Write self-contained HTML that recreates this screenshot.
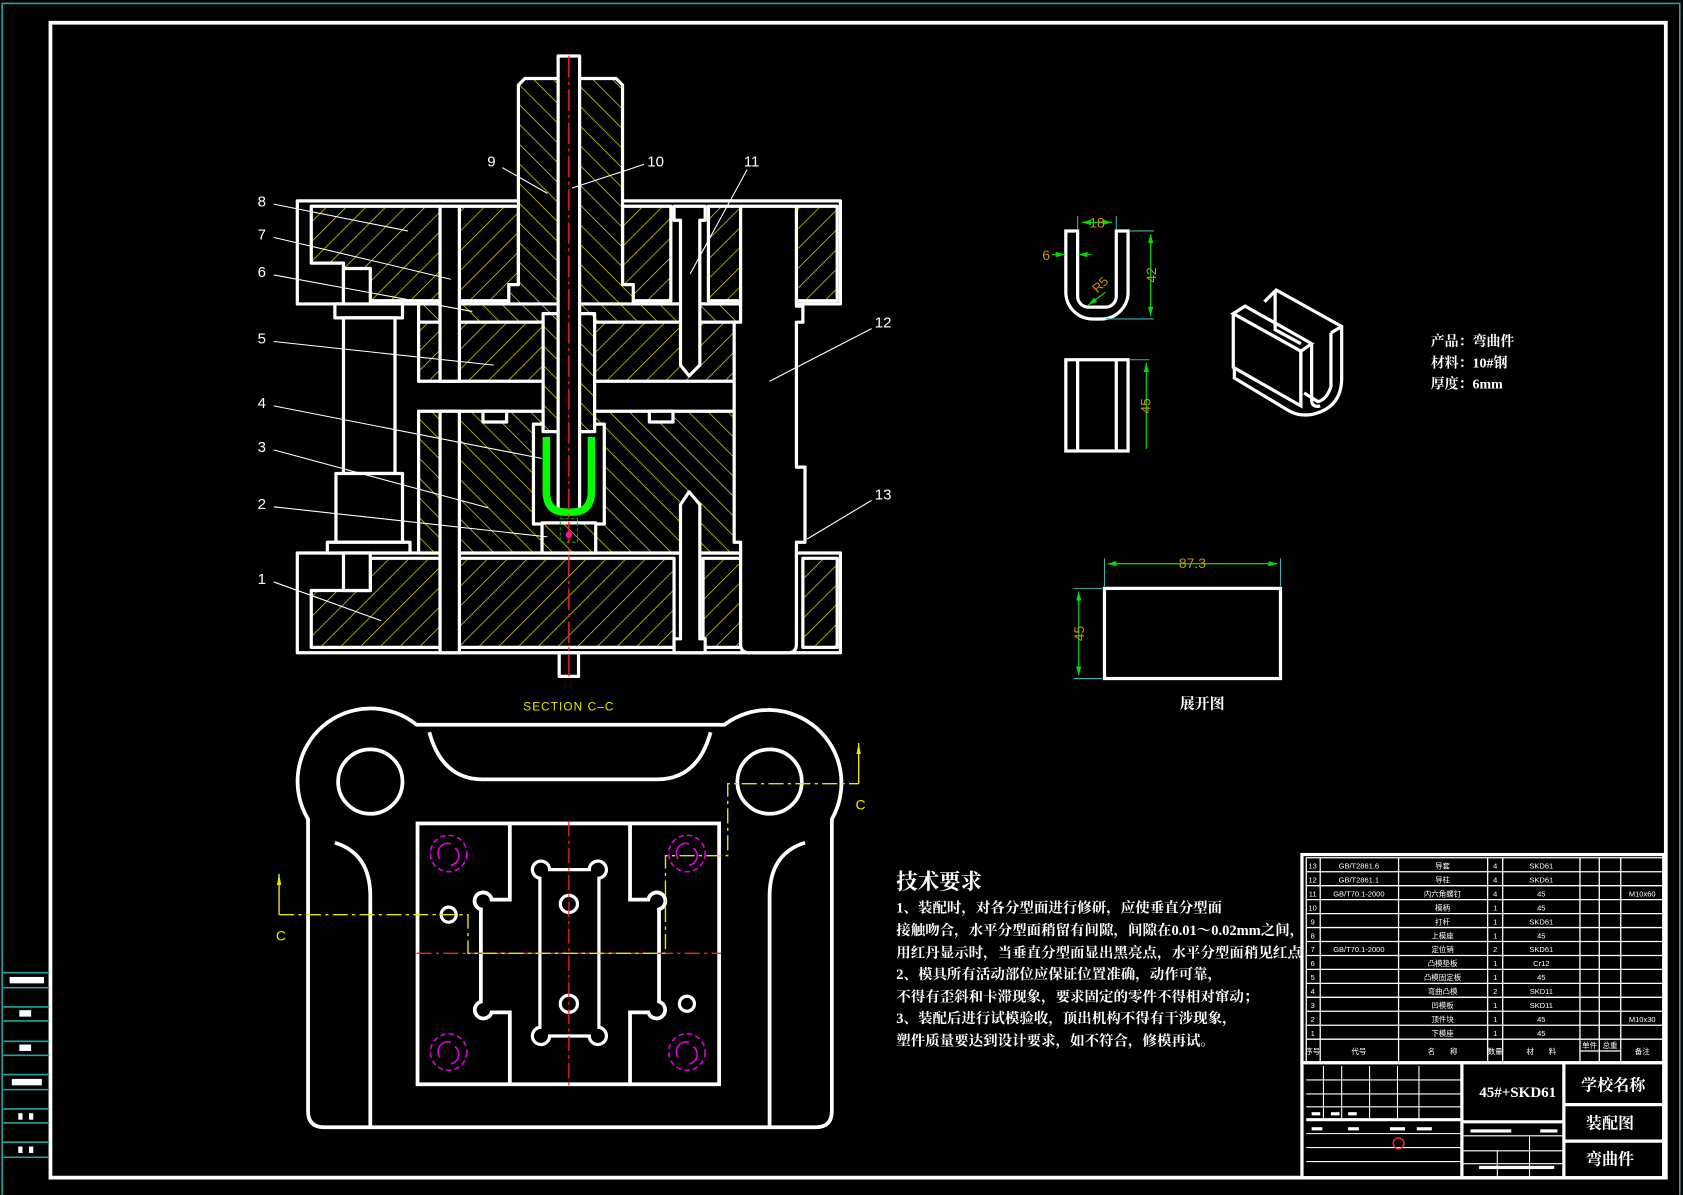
<!DOCTYPE html>
<html><head><meta charset="utf-8"><style>
html,body{margin:0;padding:0;background:#000;}
svg{display:block;}
text{font-family:"Liberation Sans","Noto Sans CJK SC",sans-serif;}
.cn{font-family:"Liberation Serif","Noto Serif CJK SC","Noto Sans CJK SC",serif;font-weight:bold;}
</style></head><body>
<svg width="1683" height="1195" viewBox="0 0 1568 1113" xmlns="http://www.w3.org/2000/svg">
<defs>
<pattern id="hA" patternUnits="userSpaceOnUse" width="13" height="13" patternTransform="rotate(45)">
<rect width="13" height="13" fill="#000"/><line x1="0" y1="0" x2="0" y2="13" stroke="#e6e600" stroke-width="1.3"/></pattern>
<pattern id="hB" patternUnits="userSpaceOnUse" width="13" height="13" patternTransform="rotate(-45)">
<rect width="13" height="13" fill="#000"/><line x1="0" y1="0" x2="0" y2="13" stroke="#e6e600" stroke-width="1.3"/></pattern>
<marker id="ag" viewBox="0 0 10 10" refX="10" refY="5" markerWidth="7" markerHeight="7" orient="auto-start-reverse"><path d="M0,2 L10,5 L0,8 Z" fill="#00dd00"/></marker>
<marker id="ay" viewBox="0 0 10 10" refX="10" refY="5" markerWidth="8" markerHeight="8" orient="auto"><path d="M0,3 L10,5 L0,7 Z" fill="#e6e600"/></marker>
</defs>
<rect width="1568" height="1113" fill="#000"/>
<!-- frame -->
<polyline points="2,1113 2,3 1565,3 1565,1113" fill="none" stroke="#1fa5a5" stroke-width="1.5"/>
<rect x="47" y="21" width="1505" height="1076" fill="none" stroke="#fff" stroke-width="3.5"/>
<g stroke="#1fa5a5" stroke-width="1.5">
<line x1="3" y1="906" x2="46" y2="906"/><line x1="3" y1="920" x2="46" y2="920"/>
<line x1="3" y1="938" x2="46" y2="938"/><line x1="3" y1="951" x2="46" y2="951"/>
<line x1="3" y1="970" x2="46" y2="970"/><line x1="3" y1="983" x2="46" y2="983"/>
<line x1="3" y1="1001" x2="46" y2="1001"/><line x1="3" y1="1015" x2="46" y2="1015"/>
<line x1="3" y1="1033" x2="46" y2="1033"/><line x1="3" y1="1046" x2="46" y2="1046"/>
<line x1="3" y1="1064" x2="46" y2="1064"/><line x1="3" y1="1078" x2="46" y2="1078"/>
</g>
<g fill="#fff">
<rect x="9" y="910" width="32" height="6"/><rect x="18" y="941" width="11" height="6"/>
<rect x="18" y="973" width="11" height="6"/><rect x="11" y="1005" width="28" height="6"/>
<rect x="17" y="1037" width="4" height="6"/><rect x="27" y="1037" width="4" height="6"/>
<rect x="17" y="1068" width="4" height="6"/><rect x="27" y="1068" width="4" height="6"/>
</g>

<!-- ===== SECTION VIEW ===== -->
<g stroke="#fff" stroke-width="3" stroke-linejoin="round">
<!-- top plate -->
<rect x="277" y="187" width="506" height="96" fill="#000"/>
<path d="M290,192 H410 V280 H320 V245 H290 Z" fill="url(#hA)"/>
<rect x="428" y="192" width="55" height="88" fill="url(#hA)"/>
<rect x="580" y="192" width="45" height="88" fill="url(#hA)"/>
<rect x="660" y="192" width="30" height="88" fill="url(#hA)"/>
<rect x="742" y="192" width="38" height="88" fill="url(#hA)"/>
<!-- lower plate -->
<rect x="277" y="515" width="506" height="93" fill="#000"/>
<path d="M290,550 H345 V520 H410 V603 H290 Z" fill="url(#hA)"/>
<rect x="428" y="520" width="200" height="83" fill="url(#hA)"/>
<rect x="655" y="520" width="35" height="83" fill="url(#hA)"/>
<rect x="748" y="520" width="32" height="83" fill="url(#hA)"/>
<!-- plate 6 & 5 -->
<rect x="390" y="283" width="300" height="17" fill="url(#hB)"/>
<rect x="390" y="300" width="300" height="55" fill="url(#hA)"/>
<!-- die plate -->
<rect x="390" y="383" width="300" height="132" fill="url(#hB)"/>
<rect x="450" y="383" width="22" height="10" fill="#000"/>
<rect x="605" y="383" width="22" height="10" fill="#000"/>
<rect x="497" y="395" width="66" height="93" fill="#000"/>
<rect x="505" y="487" width="50" height="28" fill="url(#hB)"/>
<!-- guide pin channels -->
<rect x="410" y="192" width="18" height="163" fill="#000"/>
<rect x="410" y="383" width="18" height="225" fill="#000"/>
<!-- punch -->
<rect x="506" y="292" width="48" height="110" fill="url(#hB)"/>
<!-- part 9 -->
<path d="M489,73 H574 L580,79 V265 H590 V283 H474 V265 H483 V79 Z" fill="url(#hB)"/>
<!-- center rod -->
<rect x="520" y="52" width="20" height="425" fill="#000"/>
<rect x="521" y="608" width="18" height="22" fill="#000"/>
<!-- screws -->
<path d="M628,192 H657 V205 H652 V340 L642,350 L634,340 V205 H628 Z" fill="#000"/>
<path d="M634,470 L642,458 L652,470 V595 H657 V608 H628 V595 H634 Z" fill="#000"/>
<!-- right guide post -->
<path d="M690,192 H742 V285 H748 V300 H742 V435 H750 V505 H742 V600 Q742,608 734,608 H698 Q690,608 690,600 V505 H684 V300 H690 V285 Z" fill="#000"/>
<!-- left guide post -->
<rect x="312" y="283" width="63" height="13" fill="#000"/>
<rect x="320" y="296" width="48" height="145" fill="#000"/>
<rect x="313" y="441" width="62" height="64" fill="#000"/>
<rect x="305" y="505" width="77" height="10" fill="#000"/>
<rect x="320" y="250" width="25" height="33" fill="#000"/>
<rect x="320" y="515" width="25" height="35" fill="#000"/>
</g>
<path d="M509,407 V458 Q509,477 527,477 H533 Q551,477 551,458 V407" fill="none" stroke="#00ff00" stroke-width="7"/>
<rect x="522" y="483" width="16" height="22" fill="none" stroke="#00aa00" stroke-width="1" stroke-dasharray="3,2"/>
<circle cx="530" cy="498" r="3" fill="#ff00ff"/>
<line x1="530" y1="52" x2="530" y2="632" stroke="#ff2020" stroke-width="1.3" stroke-dasharray="20,4,3,4"/>
<!-- labels -->
<g stroke="#fff" stroke-width="1">
<line x1="255" y1="190" x2="380" y2="215"/><line x1="255" y1="221" x2="420" y2="260"/>
<line x1="255" y1="256" x2="440" y2="290"/><line x1="255" y1="318" x2="460" y2="340"/>
<line x1="255" y1="378" x2="505" y2="427"/><line x1="255" y1="419" x2="455" y2="473"/>
<line x1="255" y1="472" x2="510" y2="500"/><line x1="255" y1="542" x2="355" y2="578"/>
<line x1="468" y1="156" x2="510" y2="180"/><line x1="600" y1="153" x2="533" y2="175"/>
<line x1="696" y1="158" x2="643" y2="255"/><line x1="812" y1="306" x2="717" y2="355"/>
<line x1="812" y1="466" x2="752" y2="502"/>
</g>
<g fill="#fff" font-size="14">
<text x="240" y="192">8</text><text x="240" y="223">7</text><text x="240" y="258">6</text>
<text x="240" y="320">5</text><text x="240" y="380">4</text><text x="240" y="421">3</text>
<text x="240" y="474">2</text><text x="240" y="544">1</text>
<text x="454" y="155">9</text><text x="603" y="155">10</text><text x="693" y="155">11</text>
<text x="815" y="305">12</text><text x="815" y="465">13</text>
</g>
<text x="530" y="662" fill="#e6e600" font-size="11" text-anchor="middle" letter-spacing="1">SECTION C–C</text>

<!-- ===== PLAN VIEW ===== -->
<g fill="none" stroke="#fff" stroke-width="3.5">
<path d="M388,675 L675,675 A68,68 0 0 1 775,763 L775,1035 Q775,1050 760,1050 L302,1050 Q287,1050 287,1035 L287,763 A68,68 0 0 1 388,675 Z"/>
<path d="M400,682 Q412,726 450,726 L612,726 Q650,726 662,682"/>
<path d="M312,785 Q345,795 345,835 V1049"/>
<path d="M750,785 Q717,795 717,835 V1049"/>
<circle cx="345" cy="728" r="30"/><circle cx="717" cy="728" r="30"/>
<rect x="389" y="767" width="281" height="243"/>
<path d="M475,767 V838 H458 A8,8 0 1 0 448,847 V933 A8,8 0 1 0 458,943 H475 V1010"/>
<path d="M587,767 V838 H604 A8,8 0 1 1 614,847 V933 A8,8 0 1 1 604,943 H587 V1010"/>
<path d="M503,818 A8,8 0 1 1 512,810 H549 A8,8 0 1 1 558,818 V957 A8,8 0 1 1 549,965 H512 A8,8 0 1 1 503,957 Z" stroke-width="3"/>
<line x1="503" y1="825" x2="503" y2="950" stroke-width="2"/><line x1="558" y1="825" x2="558" y2="950" stroke-width="2"/>
<circle cx="530" cy="842" r="8" stroke-width="3"/><circle cx="530" cy="935" r="8" stroke-width="3"/>
<circle cx="418" cy="852" r="7" stroke-width="3"/><circle cx="640" cy="935" r="7" stroke-width="3"/>
</g>
<g fill="none" stroke="#dd00dd" stroke-width="1.5" stroke-dasharray="5,3">
<circle cx="418" cy="795" r="17"/><circle cx="640" cy="795" r="17"/>
<circle cx="418" cy="980" r="17"/><circle cx="640" cy="980" r="17"/>
</g>
<g fill="none" stroke="#dd00dd" stroke-width="1.5">
<path d="M410,800 A9,9 0 0 1 420,786"/><path d="M424,790 A9,9 0 0 1 420,806"/>
<path d="M632,800 A9,9 0 0 1 642,786"/><path d="M646,790 A9,9 0 0 1 642,806"/>
<path d="M410,985 A9,9 0 0 1 420,971"/><path d="M424,975 A9,9 0 0 1 420,991"/>
<path d="M632,985 A9,9 0 0 1 642,971"/><path d="M646,975 A9,9 0 0 1 642,991"/>
</g>
<g stroke="#ff2020" stroke-width="1.2" stroke-dasharray="14,4,3,4">
<line x1="388" y1="888" x2="672" y2="888"/><line x1="530" y1="765" x2="530" y2="1012"/>
</g>
<g fill="none" stroke="#e6e600" stroke-width="1.3">
<polyline points="260,852 436,852 436,888 620,888 620,797 678,797 678,730 800,730" stroke-dasharray="14,4,3,4"/>
<line x1="260" y1="852" x2="260" y2="814" marker-end="url(#ay)"/>
<line x1="800" y1="730" x2="800" y2="692" marker-end="url(#ay)"/>
</g>
<text x="257" y="876" fill="#e6e600" font-size="13">C</text>
<text x="797" y="754" fill="#e6e600" font-size="13">C</text>

<!-- ===== PART VIEWS ===== -->
<g fill="none" stroke="#fff" stroke-width="3">
<path d="M993,215 V272 A25,25 0 0 0 1018,297 H1026 A25,25 0 0 0 1051,272 V215 H1040 V276 A10,10 0 0 1 1030,286 H1014 A10,10 0 0 1 1004,276 V215 Z"/>
<rect x="993" y="335" width="58" height="85"/>
<line x1="1004" y1="335" x2="1004" y2="420"/><line x1="1040" y1="335" x2="1040" y2="420"/>
<rect x="1029" y="548" width="164" height="84"/>
<!-- iso -->
<path d="M1149,292 L1160,285 L1222,320 L1212,327 Z"/>
<path d="M1149,292 V342 L1212,378 V327"/>
<path d="M1212,327 V378"/>
<path d="M1178,281 L1189,270 L1250,304 V352 Q1250,380 1222,386 Q1210,388 1200,382 L1150,352 V342"/>
<path d="M1222,320 V372 Q1222,380 1230,378"/>
<path d="M1188,272 V307 L1212,320"/>
<path d="M1240,310 L1250,304 M1240,310 V360 Q1236,372 1228,374 L1215,366"/>
</g>
<g stroke="#00cc00" stroke-width="1.2" fill="none">
<line x1="1008" y1="207" x2="1036" y2="207" marker-start="url(#ag)" marker-end="url(#ag)"/>
<line x1="980" y1="237" x2="992" y2="237" marker-end="url(#ag)"/>
<line x1="1017" y1="237" x2="1005" y2="237" marker-end="url(#ag)"/>
<line x1="1072" y1="218" x2="1072" y2="294" marker-start="url(#ag)" marker-end="url(#ag)"/>
<line x1="1068" y1="338" x2="1068" y2="418" marker-start="url(#ag)"/>
<line x1="1030" y1="272" x2="1014" y2="284" marker-end="url(#ag)"/>
<line x1="1032" y1="525" x2="1190" y2="525" marker-start="url(#ag)" marker-end="url(#ag)"/>
<line x1="1005" y1="551" x2="1005" y2="629" marker-start="url(#ag)" marker-end="url(#ag)"/>
</g>
<g stroke="#40b0b0" stroke-width="1">
<line x1="1004" y1="201" x2="1004" y2="213"/><line x1="1040" y1="201" x2="1040" y2="213"/>
<line x1="1052" y1="215" x2="1075" y2="215"/><line x1="1030" y1="297" x2="1075" y2="297"/>
<line x1="1052" y1="335" x2="1071" y2="335"/>
<line x1="1029" y1="520" x2="1029" y2="546"/><line x1="1193" y1="520" x2="1193" y2="546"/>
<line x1="1000" y1="548" x2="1027" y2="548"/><line x1="1000" y1="632" x2="1027" y2="632"/>
</g>
<g fill="#d09000" font-size="13">
<text x="1022" y="212" text-anchor="middle">18</text>
<text x="971" y="242">6</text>
<text transform="translate(1077,256) rotate(-90)" text-anchor="middle">42</text>
<text transform="translate(1072,378) rotate(-90)" text-anchor="middle">45</text>
<text transform="translate(1028,268) rotate(-45)" text-anchor="middle" font-size="12">R5</text>
<text x="1111" y="529" text-anchor="middle">87.3</text>
<text transform="translate(1010,590) rotate(-90)" text-anchor="middle">45</text>
</g>
<text x="1120" y="660" fill="#fff" font-size="14" text-anchor="middle" class="cn">展开图</text>
<g fill="#fff" font-size="13" class="cn">
<text x="1333" y="322" class="cn">产品：弯曲件</text>
<text x="1333" y="342" class="cn">材料：10#钢</text>
<text x="1333" y="362" class="cn">厚度：6mm</text>
</g>

<!-- tech requirements -->
<g fill="#fff" class="cn">
<text x="835" y="828" font-size="20" class="cn">技术要求</text>
<g font-size="13.5">
<text x="835" y="850" class="cn">1、装配时，对各分型面进行修研，应使垂直分型面</text>
<text x="835" y="871" class="cn">接触吻合，水平分型面稍留有间隙，间隙在0.01～0.02mm之间，</text>
<text x="835" y="892" class="cn">用红丹显示时，当垂直分型面显出黑亮点，水平分型面稍见红点即可。</text>
<text x="835" y="912" class="cn">2、模具所有活动部位应保证位置准确，动作可靠，</text>
<text x="835" y="933" class="cn">不得有歪斜和卡滞现象，要求固定的零件不得相对窜动；</text>
<text x="835" y="953" class="cn">3、装配后进行试模验收，顶出机构不得有干涉现象，</text>
<text x="835" y="974" class="cn">塑件质量要达到设计要求，如不符合，修模再试。</text>
</g></g>

<!-- BOM table -->
<rect x="1213" y="796" width="337" height="194" fill="#000" stroke="#fff" stroke-width="3"/>
<g stroke="#fff" stroke-width="1.2">
<line x1="1217" y1="812" x2="1550" y2="812"/><line x1="1217" y1="825" x2="1550" y2="825"/>
<line x1="1217" y1="838" x2="1550" y2="838"/><line x1="1217" y1="851" x2="1550" y2="851"/>
<line x1="1217" y1="864" x2="1550" y2="864"/><line x1="1217" y1="877" x2="1550" y2="877"/>
<line x1="1217" y1="890" x2="1550" y2="890"/><line x1="1217" y1="903" x2="1550" y2="903"/>
<line x1="1217" y1="916" x2="1550" y2="916"/><line x1="1217" y1="929" x2="1550" y2="929"/>
<line x1="1217" y1="942" x2="1550" y2="942"/><line x1="1217" y1="955" x2="1550" y2="955"/>
<line x1="1217" y1="968" x2="1550" y2="968"/><line x1="1217" y1="799" x2="1550" y2="799"/>
<line x1="1217" y1="799" x2="1217" y2="990"/><line x1="1230" y1="799" x2="1230" y2="990"/>
<line x1="1303" y1="799" x2="1303" y2="990"/><line x1="1386" y1="799" x2="1386" y2="990"/>
<line x1="1400" y1="799" x2="1400" y2="990"/><line x1="1472" y1="799" x2="1472" y2="990"/>
<line x1="1490" y1="799" x2="1490" y2="990"/><line x1="1510" y1="799" x2="1510" y2="990"/>
<line x1="1472" y1="979" x2="1510" y2="979"/>
</g>
<g fill="#fff" font-size="7" text-anchor="middle">
<text x="1223" y="809">13</text><text x="1266" y="809">GB/T2861.6</text><text x="1344" y="809">导套</text><text x="1393" y="809">4</text><text x="1436" y="809">SKD61</text>
<text x="1223" y="822">12</text><text x="1266" y="822">GB/T2861.1</text><text x="1344" y="822">导柱</text><text x="1393" y="822">4</text><text x="1436" y="822">SKD61</text>
<text x="1223" y="835">11</text><text x="1266" y="835">GB/T70.1-2000</text><text x="1344" y="835">内六角螺钉</text><text x="1393" y="835">4</text><text x="1436" y="835">45</text><text x="1530" y="835">M10x60</text>
<text x="1223" y="848">10</text><text x="1344" y="848">模柄</text><text x="1393" y="848">1</text><text x="1436" y="848">45</text>
<text x="1223" y="861">9</text><text x="1344" y="861">打杆</text><text x="1393" y="861">1</text><text x="1436" y="861">SKD61</text>
<text x="1223" y="874">8</text><text x="1344" y="874">上模座</text><text x="1393" y="874">1</text><text x="1436" y="874">45</text>
<text x="1223" y="887">7</text><text x="1266" y="887">GB/T70.1-2000</text><text x="1344" y="887">定位销</text><text x="1393" y="887">2</text><text x="1436" y="887">SKD61</text>
<text x="1223" y="900">6</text><text x="1344" y="900">凸模垫板</text><text x="1393" y="900">1</text><text x="1436" y="900">Cr12</text>
<text x="1223" y="913">5</text><text x="1344" y="913">凸模固定板</text><text x="1393" y="913">1</text><text x="1436" y="913">45</text>
<text x="1223" y="926">4</text><text x="1344" y="926">弯曲凸模</text><text x="1393" y="926">2</text><text x="1436" y="926">SKD11</text>
<text x="1223" y="939">3</text><text x="1344" y="939">凹模板</text><text x="1393" y="939">1</text><text x="1436" y="939">SKD11</text>
<text x="1223" y="952">2</text><text x="1344" y="952">顶件块</text><text x="1393" y="952">1</text><text x="1436" y="952">45</text><text x="1530" y="952">M10x30</text>
<text x="1223" y="965">1</text><text x="1344" y="965">下模座</text><text x="1393" y="965">1</text><text x="1436" y="965">45</text>
<text x="1223" y="982">序号</text><text x="1266" y="982">代号</text><text x="1344" y="982">名　　称</text><text x="1393" y="982">数量</text><text x="1436" y="982">材　　料</text><text x="1481" y="976">单件</text><text x="1500" y="976">总重</text><text x="1530" y="982">备注</text>
</g>
<!-- title block -->
<rect x="1213" y="990" width="337" height="107" fill="#000" stroke="#fff" stroke-width="3"/>
<g stroke="#fff" stroke-width="3">
<line x1="1362" y1="990" x2="1362" y2="1097"/><line x1="1457" y1="990" x2="1457" y2="1097"/>
<line x1="1457" y1="1029" x2="1550" y2="1029"/><line x1="1457" y1="1063" x2="1550" y2="1063"/>
<line x1="1362" y1="1045" x2="1457" y2="1045"/><line x1="1217" y1="1043" x2="1362" y2="1043"/>
</g>
<g stroke="#fff" stroke-width="1">
<line x1="1217" y1="1006" x2="1362" y2="1006"/><line x1="1217" y1="1019" x2="1362" y2="1019"/>
<line x1="1217" y1="1031" x2="1362" y2="1031"/><line x1="1217" y1="1056" x2="1362" y2="1056"/>
<line x1="1217" y1="1069" x2="1362" y2="1069"/><line x1="1217" y1="1082" x2="1362" y2="1082"/>
<line x1="1233" y1="993" x2="1233" y2="1043"/><line x1="1250" y1="993" x2="1250" y2="1043"/>
<line x1="1276" y1="993" x2="1276" y2="1043"/><line x1="1302" y1="993" x2="1302" y2="1043"/>
<line x1="1322" y1="993" x2="1322" y2="1043"/><line x1="1362" y1="1058" x2="1457" y2="1058"/>
<line x1="1362" y1="1072" x2="1457" y2="1072"/><line x1="1362" y1="1084" x2="1457" y2="1084"/>
<line x1="1395" y1="1072" x2="1395" y2="1097"/><line x1="1425" y1="1058" x2="1425" y2="1097"/>
</g>
<g fill="#fff">
<rect x="1222" y="1036" width="8" height="3"/><rect x="1240" y="1036" width="8" height="3"/><rect x="1256" y="1036" width="8" height="3"/>
<rect x="1222" y="1050" width="10" height="3"/><rect x="1256" y="1050" width="10" height="3"/><rect x="1295" y="1050" width="14" height="3"/><rect x="1320" y="1050" width="14" height="3"/>
<rect x="1370" y="1052" width="38" height="3"/><rect x="1435" y="1052" width="16" height="3"/>
<rect x="1378" y="1086" width="70" height="3"/>
</g>
<circle cx="1303" cy="1065" r="5" fill="none" stroke="#ff3030" stroke-width="1.3"/>
<g fill="#fff" class="cn">
<text x="1414" y="1022" font-size="14" text-anchor="middle" class="cn">45#+SKD61</text>
<text x="1503" y="1016" font-size="15" text-anchor="middle" class="cn">学校名称</text>
<text x="1500" y="1051" font-size="15" text-anchor="middle" class="cn">装配图</text>
<text x="1500" y="1085" font-size="15" text-anchor="middle" class="cn">弯曲件</text>
</g>
</svg>
</body></html>
